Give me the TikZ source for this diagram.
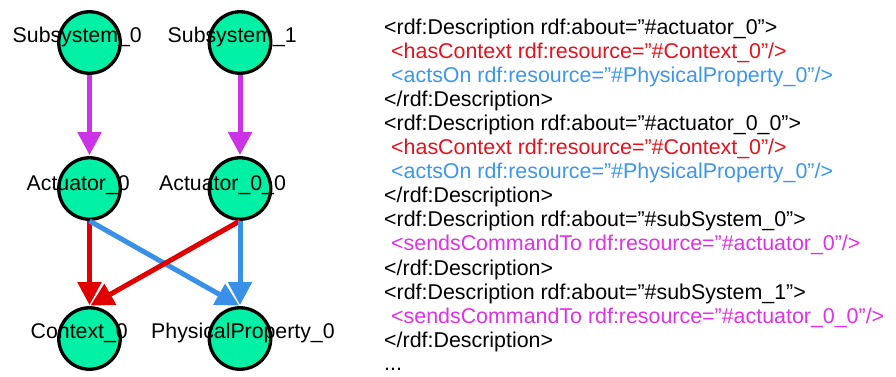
\documentclass[tikz,border=0pt]{standalone}
\usepackage{fontspec}
\setmainfont{Liberation Sans}
\usetikzlibrary{arrows.meta}
\definecolor{nodefill}{RGB}{0,240,165}
\definecolor{edgemag}{RGB}{204,51,230}
\definecolor{edgered}{RGB}{224,0,0}
\definecolor{edgeblue}{RGB}{56,144,232}
\definecolor{txtred}{RGB}{232,16,28}
\definecolor{txtblue}{RGB}{60,150,240}
\definecolor{txtmag}{RGB}{224,48,232}
\tikzset{
  vnode/.style={circle, draw=black, line width=3.3pt, fill=nodefill, minimum size=61.5pt, inner sep=0pt},
  lbl/.style={anchor=base west, inner sep=0pt, font=\fontsize{21.3}{24}\selectfont},
  code/.style={anchor=base west, inner sep=0pt, font=\fontsize{21.4}{24}\selectfont},
  conn/.style={line width=5pt, -{Triangle[width=23pt,length=23pt]}, shorten >=1pt},
}
\begin{document}
\begin{tikzpicture}[x=1pt,y=-1pt]
\useasboundingbox[fill=white] (0,0) rectangle (896,376);
% graph nodes
\node[vnode] (s0) at (89.5,42.5) {};
\node[vnode] (s1) at (240,42.5) {};
\node[vnode] (a0) at (89.5,188.5) {};
\node[vnode] (a00) at (240,188.5) {};
\node[vnode] (c0) at (89.5,338.5) {};
\node[vnode] (p0) at (240,338.5) {};
% connectors
\draw[conn, edgemag] (s0.south) -- (a0.north);
\draw[conn, edgemag] (s1.south) -- (a00.north);
\draw[conn, edgered] (a0.south) -- (c0.north);
\draw[conn, edgeblue] (a0.south) -- (p0.north);
\draw[conn, edgered] (a00.south) -- (c0.north);
\draw[conn, edgeblue] (a00.south) -- (p0.north);
% labels
\node[lbl] (s0l) at (12.5,42.5) {Subsystem\_0};
\node[lbl] (s1l) at (167.5,42.5) {Subsystem\_1};
\node[lbl] (a0l) at (26.5,190) {Actuator\_0};
\node[lbl] (a00l) at (159,190) {Actuator\_0\_0};
\node[lbl] (c0l) at (30.5,338) {Context\_0};
\node[lbl] (p0l) at (151,338) {PhysicalProperty\_0};
% code text
\node[code] (t1) at (384,34) {<rdf:Description rdf:about=”\#actuator\_0”>};
\node[code, txtred] (t2) at (391,58.1) {<hasContext rdf:resource=”\#Context\_0”/>};
\node[code, txtblue] (t3) at (391,82.2) {<actsOn rdf:resource=”\#PhysicalProperty\_0”/>};
\node[code] (t4) at (384,106.3) {</rdf:Description>};
\node[code] (t5) at (384,130.4) {<rdf:Description rdf:about=”\#actuator\_0\_0”>};
\node[code, txtred] (t6) at (391,154.5) {<hasContext rdf:resource=”\#Context\_0”/>};
\node[code, txtblue] (t7) at (391,178.6) {<actsOn rdf:resource=”\#PhysicalProperty\_0”/>};
\node[code] (t8) at (384,202.7) {</rdf:Description>};
\node[code] (t9) at (384,226.8) {<rdf:Description rdf:about=”\#subSystem\_0”>};
\node[code, txtmag] (t10) at (391,250.9) {<sendsCommandTo rdf:resource=”\#actuator\_0”/>};
\node[code] (t11) at (384,275) {</rdf:Description>};
\node[code] (t12) at (384,299.1) {<rdf:Description rdf:about=”\#subSystem\_1”>};
\node[code, txtmag] (t13) at (391,323.2) {<sendsCommandTo rdf:resource=”\#actuator\_0\_0”/>};
\node[code] (t14) at (384,347.3) {</rdf:Description>};
\node[code] (t15) at (384,370.5) {...};
\end{tikzpicture}
\end{document}
